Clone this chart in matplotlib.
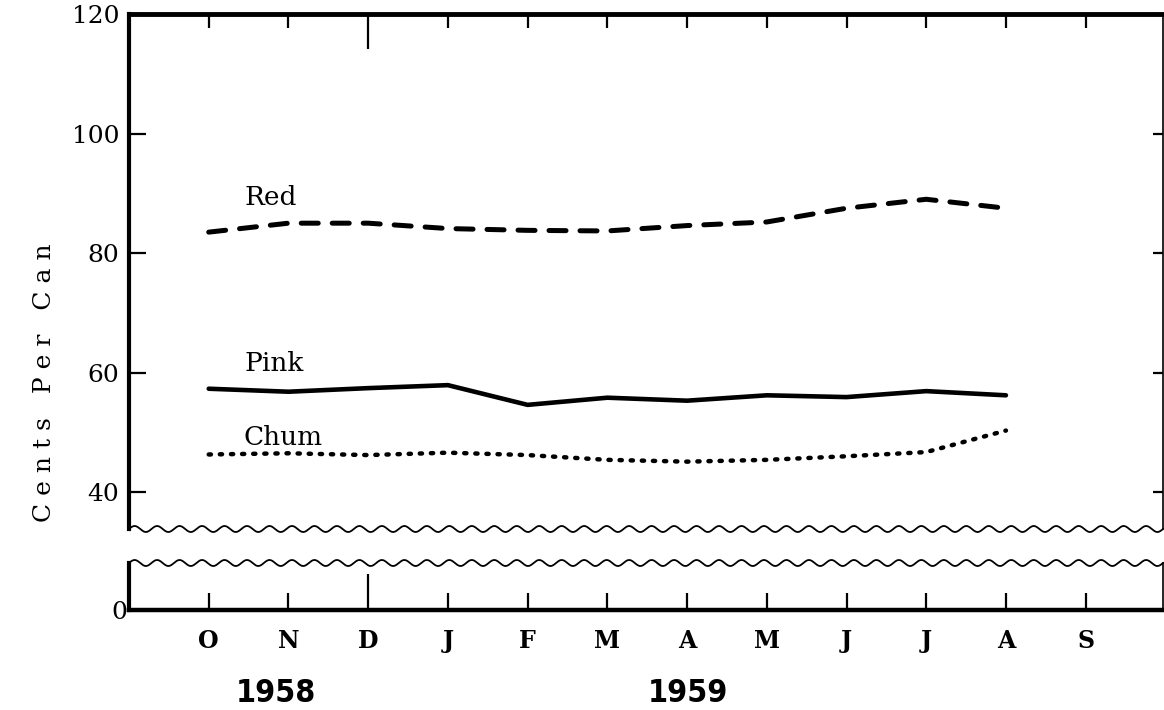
import matplotlib
matplotlib.use('Agg')
import numpy as np
import matplotlib.pyplot as plt
from matplotlib import font_manager

# ---- data ----
months = ['O', 'N', 'D', 'J', 'F', 'M', 'A', 'M', 'J', 'J', 'A', 'S']
years = ['1958', '1959']
red = [83.5, 85.0, 85.0, 84.1, 83.8, 83.7, 84.6, 85.2, 87.5, 89.0, 87.5]
pink = [57.3, 56.8, 57.4, 57.9, 54.6, 55.8, 55.3, 56.2, 55.9, 56.9, 56.2]
chum = [46.3, 46.5, 46.2, 46.6, 46.2, 45.4, 45.1, 45.4, 46.0, 46.7, 50.3]
y_ticks = [40, 60, 80, 100, 120]
series_names = ['Red', 'Pink', 'Chum']

SERIF = ['DejaVu Serif']
W, H = 1164, 710
fig = plt.figure(figsize=(W / 100, H / 100), dpi=100)


def fx(px):
    return px / W


def fy(py):
    return 1 - py / H


ax = fig.add_axes([fx(129), fy(529), fx(1163) - fx(129), fy(14) - fy(529)])
axb = fig.add_axes([fx(129), fy(610), fx(1163) - fx(129), fy(563) - fy(610)])

xm = np.arange(1, len(months) + 1)
xd = np.arange(1, len(red) + 1)

ax.plot(xd, red, color='black', lw=3.6, linestyle=(0, (3.4, 2.8)), dash_capstyle='round')
ax.plot(xd, pink, color='black', lw=3.3, solid_capstyle='round', solid_joinstyle='round')
ax.plot(xd, chum, color='black', lw=3.2, linestyle=(0, (0.5, 2.0)), dash_capstyle='round')

ax.set_xlim(0, 12.97)
ax.set_ylim(33.83, 120)
axb.set_xlim(0, 12.97)
axb.set_ylim(0, 7.86)

# spines
for a in (ax, axb):
    a.spines['left'].set_linewidth(3.0)
    a.spines['right'].set_linewidth(1.2)
ax.spines['top'].set_linewidth(3.5)
ax.spines['bottom'].set_visible(False)
axb.spines['top'].set_visible(False)
axb.spines['bottom'].set_linewidth(3.2)

# upper ticks
ax.set_yticks(y_ticks)
ax.set_yticklabels([str(v) for v in y_ticks], fontfamily=SERIF, fontsize=18)
ax.tick_params(axis='y', direction='in', left=True, right=True, length=12, width=1.6, pad=7)
for t in ax.yaxis.get_major_ticks():
    t.tick2line.set_markersize(7)
ax.set_xticks(xm)
ax.tick_params(axis='x', direction='in', top=True, bottom=False, labelbottom=False,
               length=10, width=1.6)
ax.xaxis.get_major_ticks()[2].tick2line.set_markersize(25)

# lower ticks
axb.set_yticks([0])
axb.set_yticklabels(['0'], fontfamily=SERIF, fontsize=18)
axb.tick_params(axis='y', length=0, pad=1)
axb.set_xticks(xm)
axb.set_xticklabels(months, fontfamily=SERIF, fontsize=17, fontweight='bold')
axb.tick_params(axis='x', direction='in', length=12, width=1.6, pad=14)
axb.xaxis.get_major_ticks()[2].tick1line.set_markersize(26)

# wavy break lines
t = np.linspace(0, 1, 3000)
n_waves = 46
ax.plot(t, (3 / 515) * np.sin(2 * np.pi * n_waves * t), transform=ax.transAxes,
        color='black', lw=1.3, clip_on=False)
axb.plot(t, 1 + (3 / 47) * np.sin(2 * np.pi * n_waves * t), transform=axb.transAxes,
         color='black', lw=1.3, clip_on=False)

# series labels
ax.text(1.45, 88.0, series_names[0], fontfamily=SERIF, fontsize=19, ha='left', va='baseline')
ax.text(1.45, 60.3, series_names[1], fontfamily=SERIF, fontsize=19, ha='left', va='baseline')
ax.text(1.43, 47.9, series_names[2], fontfamily=SERIF, fontsize=19, ha='left', va='baseline')

# axis label
fig.text(fx(45), fy(383), 'C e n t s   P e r   C a n', rotation=90, ha='center', va='center',
         fontfamily=SERIF, fontsize=18)

# years (condensed bold sans)
cond = font_manager.FontProperties(family='DejaVu Sans', weight='bold', stretch='condensed', size=23)
for xpix, yr in zip([276, 688], years):
    fig.text(fx(xpix), fy(693), yr, ha='center', va='center', fontproperties=cond)

fig.savefig('out.png', dpi=100)
